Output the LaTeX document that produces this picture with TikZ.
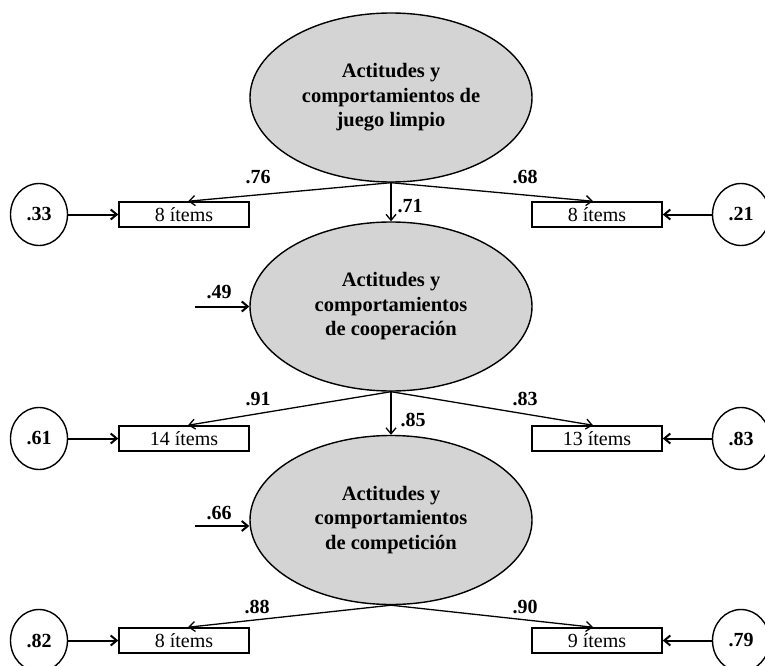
\documentclass[tikz,border=0pt]{standalone}
\usepackage{fontspec}
\setmainfont{Liberation Serif}
\usetikzlibrary{arrows.meta,shapes.geometric}

\begin{document}
\begin{tikzpicture}[x=1pt,y=-1pt,
    factor/.style={ellipse,draw,line width=1.4pt,fill=black!17,
        minimum width=282pt,minimum height=169pt,inner sep=0pt,align=center,
        font=\fontsize{20.5}{24.5}\selectfont\bfseries},
    itembox/.style={rectangle,draw,line width=1.5pt,fill=white,
        minimum width=130pt,minimum height=25pt,inner sep=0pt,
        font=\fontsize{20}{20}\selectfont},
    errcirc/.style={ellipse,draw,line width=1.4pt,fill=white,
        minimum width=57pt,minimum height=62pt,inner sep=0pt,
        font=\fontsize{20}{20}\selectfont\bfseries},
    coef/.style={inner sep=0pt,font=\fontsize{20}{20}\selectfont\bfseries},
    load/.style={-{Straight Barb[length=6pt,width=10pt]},line width=1.3pt},
    err/.style={-{Straight Barb[length=6pt,width=10pt]},line width=2pt},
]
    %
    % Independent parameters
    \def\midX{391}                                        % centre of factors
    \def\leftX{184}                                       % left item boxes
    \def\rightX{597}                                      % right item boxes
    \def\errL{39}                                         % left error terms
    \def\errR{741}                                        % right error terms
    %
    \useasboundingbox (0,0) rectangle (765,666);
    %
    % factors
    \node[factor] (juego) at (\midX,97.5)
        {Actitudes y\\comportamientos de\\juego limpio};
    \node[factor] (coop) at (\midX,306.5)
        {Actitudes y\\comportamientos\\de cooperación};
    \node[factor] (comp) at (\midX,520)
        {Actitudes y\\comportamientos\\de competición};
    %
    % item boxes and their errors
    \foreach \nm/\yy/\litems/\ritems/\lerr/\rerr in
        {j/214.5/8 ítems/8 ítems/.33/.21,
         c/438.5/14 ítems/13 ítems/.61/.83,
         m/640.5/8 ítems/9 ítems/.82/.79}%
    {
     \node[itembox] (\nm1) at (\leftX,\yy) {\litems};
     \node[itembox] (\nm2) at (\rightX,\yy) {\ritems};
     \node[errcirc] (\nm e1) at (\errL,\yy) {\lerr};
     \node[errcirc] (\nm e2) at (\errR,\yy) {\rerr};
     \draw[err] (\nm e1) -- (\nm1);
     \draw[err] (\nm e2) -- (\nm2);
    }
    %
    % loadings
    \draw[load] (juego.south) -- ([xshift=4pt]j1.north);
    \draw[load] (juego.south) -- ([xshift=-4pt]j2.north);
    \draw[load] (coop.south) -- ([xshift=4pt]c1.north);
    \draw[load] (coop.south) -- ([xshift=-4pt]c2.north);
    \draw[load] (comp.south) -- ([xshift=4pt]m1.north);
    \draw[load] (comp.south) -- ([xshift=-4pt]m2.north);
    %
    % paths between factors
    \draw[load] (juego.south) -- (coop.north);
    \draw[load] (coop.south) -- (comp.north);
    %
    % disturbances
    \coordinate (dcoop) at (195,306.5);
    \coordinate (dcomp) at (195,526);
    \draw[err] (dcoop) -- (coop.west |- dcoop);
    \draw[err] (dcomp) -- (comp.west |- dcomp);
    %
    % coefficients
    \node[coef] (l76) at (258,177) {.76};
    \node[coef] (l68) at (525,177) {.68};
    \node[coef] (l71) at (410,206) {.71};
    \node[coef] (l49) at (219,292) {.49};
    \node[coef] (l91) at (258,399) {.91};
    \node[coef] (l83) at (525,399) {.83};
    \node[coef] (l85) at (413,420) {.85};
    \node[coef] (l66) at (219,513) {.66};
    \node[coef] (l88) at (257,607) {.88};
    \node[coef] (l90) at (525,607) {.90};
\end{tikzpicture}
\end{document}
